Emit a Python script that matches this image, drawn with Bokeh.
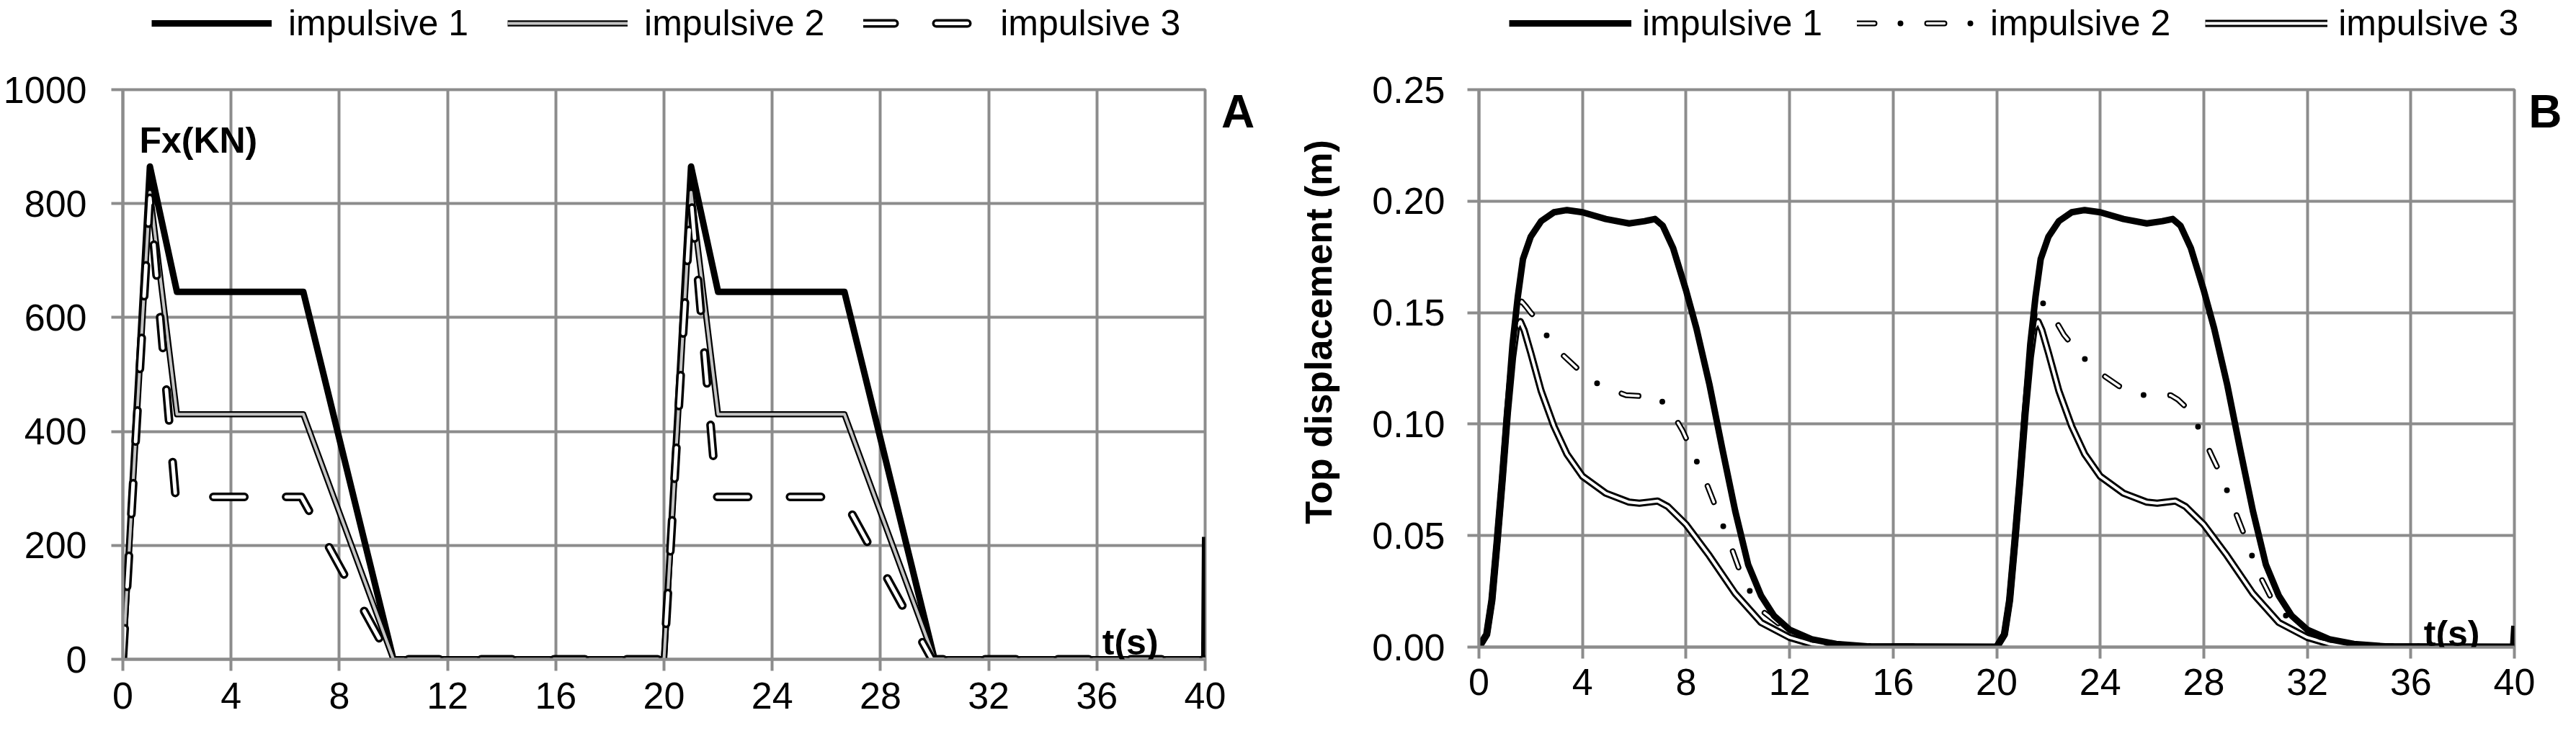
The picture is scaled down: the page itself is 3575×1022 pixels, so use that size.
from bokeh.plotting import figure
from bokeh.layouts import row, column
from bokeh.models import FixedTicker, Legend, LegendItem, Label, NumeralTickFormatter
from bokeh.embed import file_html
from bokeh.resources import INLINE

# ---------------- data : panel A (force Fx, kN) ----------------
x_ticks = [0, 4, 8, 12, 16, 20, 24, 28, 32, 36, 40]
a_yticks = [0, 200, 400, 600, 800, 1000]

a_t1 = [0, 1, 2, 6.67, 10, 20, 21, 22, 26.67, 30, 39.97, 40.0]
a_f1 = [0, 865, 645, 645, 0, 0, 865, 645, 645, 0, 0, 215]
a_t2 = [0, 1, 2, 6.67, 10, 20, 21, 22, 26.67, 30, 40]
a_f2 = [0, 820, 430, 430, 0, 0, 820, 430, 430, 0, 0]
a_t3 = [0, 1, 1.95, 6.6, 9.9, 20, 21, 21.95, 26.6, 29.9, 40]
a_f3 = [0, 810, 285, 285, 0, 0, 810, 285, 285, 0, 0]

# ---------------- data : panel B (top displacement, m) ----------------
b_yticks = [0.0, 0.05, 0.10, 0.15, 0.20, 0.25]

b_t1 = [0, 0.3, 0.5, 0.7, 0.9, 1.1, 1.3, 1.5, 1.7, 2.0, 2.4, 2.9, 3.4, 4.0, 4.9, 5.8,
        6.4, 6.8, 7.1, 7.5, 8.0, 8.4, 8.9, 9.4, 9.9, 10.4, 10.9, 11.4, 12.0, 12.85, 13.8,
        15.0, 20.0,
        20.3, 20.5, 20.7, 20.9, 21.1, 21.3, 21.5, 21.7, 22.0, 22.4, 22.9, 23.4, 24.0, 24.9,
        25.8, 26.4, 26.8, 27.1, 27.5, 28.0, 28.4, 28.9, 29.4, 29.9, 30.4, 30.9, 31.4, 32.0,
        32.85, 33.8, 35.0, 39.95, 40.0]
b_d1 = [0, 0.0057, 0.021, 0.047, 0.075, 0.106, 0.136, 0.157, 0.174, 0.184, 0.191, 0.195,
        0.196, 0.195, 0.192, 0.190, 0.191, 0.192, 0.189, 0.179, 0.160, 0.143, 0.118, 0.089,
        0.061, 0.037, 0.023, 0.014, 0.0078, 0.0035, 0.0014, 0.0003, 0,
        0.0057, 0.021, 0.047, 0.075, 0.106, 0.136, 0.157, 0.174, 0.184, 0.191, 0.195,
        0.196, 0.195, 0.192, 0.190, 0.191, 0.192, 0.189, 0.179, 0.160, 0.143, 0.118, 0.089,
        0.061, 0.037, 0.023, 0.014, 0.0078, 0.0035, 0.0014, 0.0003, 0, 0.0095]

b_t2 = [0, 0.3, 0.5, 0.7, 0.9, 1.1, 1.3, 1.5, 1.65, 1.8, 2.0, 2.3, 2.6, 3.24, 3.98, 4.73,
        5.68, 6.3, 6.72, 7.0, 7.37, 7.87, 8.3, 8.67, 9.04, 9.41, 9.71, 10.08, 10.56, 10.96,
        11.8, 12.5, 13.3, 14.5, 20.0,
        20.3, 20.5, 20.7, 20.9, 21.1, 21.3, 21.5, 21.65, 21.8, 22.0, 22.3, 22.6, 23.24, 23.98,
        24.73, 25.68, 26.3, 26.72, 27.0, 27.37, 27.87, 28.3, 28.67, 29.04, 29.41, 29.71,
        30.08, 30.56, 30.96, 31.8, 32.5, 33.3, 34.5, 40.0]
b_d2 = [0, 0.0057, 0.021, 0.047, 0.075, 0.106, 0.134, 0.151, 0.155, 0.153, 0.150, 0.146,
        0.140, 0.131, 0.123, 0.117, 0.113, 0.1125, 0.113, 0.111, 0.107, 0.097, 0.086, 0.077,
        0.066, 0.055, 0.046, 0.034, 0.023, 0.016, 0.0085, 0.0045, 0.002, 0.0005, 0,
        0.0057, 0.021, 0.047, 0.075, 0.106, 0.134, 0.152, 0.157, 0.154, 0.150, 0.146,
        0.140, 0.131, 0.123, 0.117, 0.113, 0.1125, 0.113, 0.111, 0.107, 0.097, 0.086, 0.077,
        0.066, 0.055, 0.046, 0.034, 0.023, 0.016, 0.0085, 0.0045, 0.002, 0.0005, 0]

b_t3 = [0, 0.3, 0.5, 0.7, 0.9, 1.1, 1.3, 1.45, 1.6, 1.75, 2.0, 2.4, 2.9, 3.4, 4.0, 4.9,
        5.8, 6.2, 6.9, 7.3, 8.0, 8.9, 9.9, 10.9, 12.0, 12.85, 13.8, 15.0, 20.0,
        20.3, 20.5, 20.7, 20.9, 21.1, 21.3, 21.45, 21.6, 21.75, 22.0, 22.4, 22.9, 23.4, 24.0,
        24.9, 25.8, 26.2, 26.9, 27.3, 28.0, 28.9, 29.9, 30.9, 32.0, 32.85, 33.8, 35.0, 40.0]
b_d3 = [0, 0.0057, 0.021, 0.047, 0.075, 0.105, 0.130, 0.143, 0.146, 0.142, 0.132, 0.115,
        0.099, 0.0865, 0.0766, 0.069, 0.065, 0.0645, 0.0655, 0.063, 0.055, 0.041, 0.024,
        0.011, 0.0043, 0.0014, 0.0003, 0, 0,
        0.0057, 0.021, 0.047, 0.075, 0.105, 0.130, 0.143, 0.146, 0.142, 0.132, 0.115,
        0.099, 0.0865, 0.0766, 0.069, 0.065, 0.0645, 0.0655, 0.063, 0.055, 0.041, 0.024,
        0.011, 0.0043, 0.0014, 0.0003, 0, 0]

series_names = ["impulsive 1", "impulsive 2", "impulsive 3"]

# ---------------- styling ----------------
FONT = "Liberation Sans"
GRID = "#8c8c8c"

A_STYLES = [
    [dict(line_color="black", line_width=9, line_join="round")],
    [dict(line_color="black", line_width=8.5, line_join="round"),
     dict(line_color="#c4c4c4", line_width=4, line_join="round")],
    [dict(line_color="black", line_width=12, line_join="round", line_cap="round", line_dash="43 58"),
     dict(line_color="white", line_width=5, line_join="round", line_cap="round", line_dash="43 58")],
]
B_STYLES = [
    [dict(line_color="black", line_width=9, line_join="round")],
    [dict(line_color="black", line_width=8, line_join="round", line_cap="round", line_dash="24 36 0 37"),
     dict(line_color="white", line_width=3.5, line_join="round", line_cap="round", line_dash="24 73")],
    [dict(line_color="black", line_width=10, line_join="round"),
     dict(line_color="white", line_width=4, line_join="round")],
]


def style(p, yticks, tick_font, ystandoff, xstandoff):
    p.xaxis.ticker = FixedTicker(ticks=x_ticks)
    p.yaxis.ticker = FixedTicker(ticks=yticks)
    for ax in (p.xaxis[0], p.yaxis[0]):
        ax.axis_line_color = GRID
        ax.axis_line_width = 4
        ax.major_tick_line_color = GRID
        ax.major_tick_line_width = 4
        ax.major_tick_out = 16
        ax.major_tick_in = 0
        ax.minor_tick_line_color = None
        ax.major_label_text_font = FONT
        ax.major_label_text_font_size = tick_font
        ax.major_label_text_color = "black"
    p.xaxis.axis_label = None
    p.xaxis.axis_label_standoff = 0
    p.yaxis.major_label_standoff = ystandoff
    p.xaxis.major_label_standoff = xstandoff
    p.grid.grid_line_color = GRID
    p.grid.grid_line_width = 4
    p.outline_line_color = GRID
    p.outline_line_width = 4
    p.background_fill_color = "white"
    p.border_fill_color = "white"


def bold_label(x, y, text, size, **kw):
    return Label(x=x, y=y, text=text, text_font=FONT, text_font_style="bold",
                 text_font_size=size, text_color="black", text_baseline="alphabetic", **kw)


def legend_strip(width, xs, ys, styles, loc, glyph_width, standoff, spacing):
    # legend-only strip: the series are attached but kept outside its (empty) view
    f = figure(width=width, height=80, x_range=(1000, 1001), y_range=(1000, 1001),
               x_axis_type=None, y_axis_type=None, min_border=0,
               output_backend="svg", toolbar_location=None)
    f.outline_line_color = None
    f.border_fill_color = "white"
    items = []
    for name, x, y, sts in zip(series_names, xs, ys, styles):
        rs = [f.line(x, y, **st) for st in sts]
        items.append(LegendItem(label=name, renderers=rs))
    leg = Legend(items=items, orientation="horizontal", location=loc,
                 glyph_width=glyph_width, glyph_height=30, label_standoff=standoff,
                 spacing=spacing, padding=0, margin=0, border_line_color=None,
                 background_fill_alpha=0, label_text_font=FONT,
                 label_text_font_size="50px", label_text_color="black")
    f.add_layout(leg)
    return f


def draw(p, xs, ys, styles, order):
    for i in order:
        for st in styles[i]:
            p.line(xs[i], ys[i], **st)


# ---------------- panel A ----------------
pa = figure(frame_width=1502, frame_height=791, x_range=(0, 40), y_range=(0, 1000),
            min_border_left=170, min_border_right=110, min_border_top=44,
            min_border_bottom=98, output_backend="svg", toolbar_location=None)
style(pa, a_yticks, "52px", 34, 16)
draw(pa, [a_t1, a_t2, a_t3], [a_f1, a_f2, a_f3], A_STYLES, [0, 1, 2])

pa.add_layout(bold_label(0.61, 911, "Fx(KN)", "50px"))
pa.add_layout(bold_label(36.2, 30, "t(s)", "50px"))
pa.add_layout(bold_label(40.6, 962, "A", "64px"), "right")

# ---------------- panel B ----------------
pb = figure(frame_width=1437, frame_height=774, x_range=(0, 40), y_range=(0, 0.25),
            min_border_left=270, min_border_right=70, min_border_top=40,
            min_border_bottom=112, output_backend="svg", toolbar_location=None)
style(pb, b_yticks, "52px", 31, 14)
pb.yaxis.formatter = NumeralTickFormatter(format="0.00")
pb.yaxis.axis_label = "\u00a0" * 7 + "Top displacement (m)"
pb.yaxis.axis_label_text_font = FONT
pb.yaxis.axis_label_text_font_style = "bold"
pb.yaxis.axis_label_text_font_size = "52px"
pb.yaxis.axis_label_text_color = "black"
pb.yaxis.axis_label_standoff = 42
draw(pb, [b_t1, b_t2, b_t3], [b_d1, b_d2, b_d3], B_STYLES, [2, 1, 0])

pb.add_layout(bold_label(36.5, 0.006, "t(s)", "50px"))
pb.add_layout(bold_label(40.55, 0.2403, "B", "64px"), "right")

# ---------------- legends (strips above the panels) ----------------
la = legend_strip(1782, [a_t1, a_t2, a_t3], [a_f1, a_f2, a_f3], A_STYLES, (210, 19), 167, 23, 54)
lb = legend_strip(1777, [b_t1, b_t2, b_t3], [b_d1, b_d2, b_d3], B_STYLES, (312, 19), 170, 15, 48)

layout = column(row(la, lb), row(pa, pb))
open("out.html", "w").write(file_html(layout, INLINE))
